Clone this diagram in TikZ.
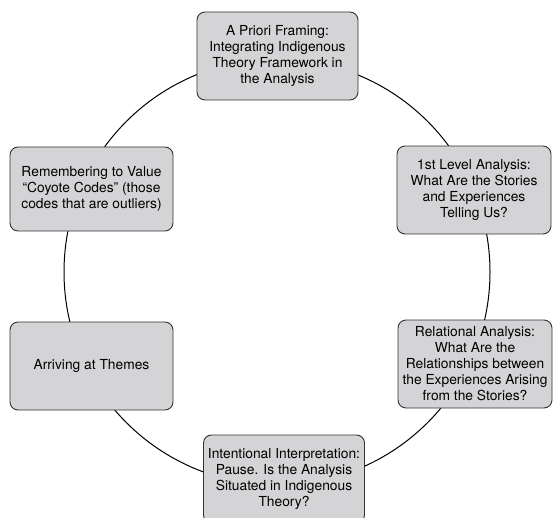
\documentclass[tikz,border=0pt]{standalone}
\usepackage{fontspec}
\setmainfont{TeX Gyre Heros}
\usepackage{xcolor}
\usetikzlibrary{positioning,backgrounds}
\definecolor{boxgray}{RGB}{212,212,214}
\definecolor{rimgray}{RGB}{50,50,50}

\begin{document}
\begin{tikzpicture}[
    x=1pt, y=-1pt,
    every node/.style={font=\fontsize{13.8}{16}\selectfont, align=center},
    phase/.style={rectangle, draw=rimgray, line width=0.9pt, rounded corners=8pt,
                  minimum width=161pt, minimum height=88pt,
                  inner sep=2pt, fill=boxgray},
    ring/.style={line width=1pt, black},
  ]
    \useasboundingbox (0,0) rectangle (553,518);
    \coordinate (hub) at (277,272);

    \node[phase]                         (frame)  at (277.5,56)
      {A Priori Framing:\\Integrating Indigenous\\Theory Framework in\\the Analysis};
    \node[phase, minimum width=154pt]    (first)  at (474,190)
      {1st Level Analysis:\\What Are the Stories\\and Experiences\\Telling Us?};
    \node[phase, minimum width=154pt]    (relat)  at (475,364)
      {Relational Analysis:\\What Are the\\Relationships between\\the Experiences Arising\\from the Stories?};
    \node[phase]                         (interp) at (284,479)
      {Intentional Interpretation:\\Pause. Is the Analysis\\Situated in Indigenous\\Theory?};
    \node[phase, minimum width=163pt]    (themes) at (91.5,366)
      {Arriving at Themes};
    \node[phase, minimum width=163pt, minimum height=84pt] (coyote) at (91.5,189)
      {Remembering to Value\\``Coyote Codes'' (those\\codes that are outliers)};

    \begin{scope}[on background layer]
      \draw[ring] (hub) circle[radius=213];
    \end{scope}
  \end{tikzpicture}
\end{document}
